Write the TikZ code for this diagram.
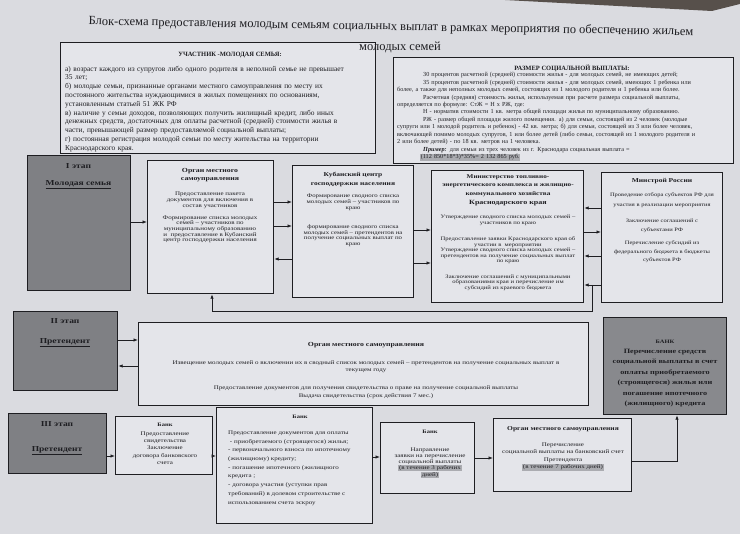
\documentclass[tikz,border=0pt]{standalone}
\usepackage{fontspec}
\setmainfont{Liberation Serif}
\usetikzlibrary{arrows.meta}
\definecolor{paper}{HTML}{DADBE0}
\definecolor{boxfill}{HTML}{E4E5EA}
\definecolor{stagefill}{HTML}{7F8084}
\definecolor{bankfill}{HTML}{88898D}
\definecolor{ink}{HTML}{1E1E22}
\definecolor{hl}{HTML}{ABACB1}
\definecolor{desk}{HTML}{57504B}
\newcommand\fsz[2]{\fontsize{#1}{#2}\selectfont}
\newcommand\jA[1]{\makebox[302pt][s]{#1}}
\newcommand\jB[1]{\makebox[326pt][s]{#1}}
\newcommand\jBi[1]{\hspace*{26pt}\makebox[300pt][s]{#1}}
\newcommand\hlt[1]{{\setlength{\fboxsep}{0.6pt}\colorbox{hl}{#1}}}
\newcommand\myrar[3]{\path (0,#3) coordinate (hy); \draw[conn] (hy -| #1.east) -- (hy -| #2.west);}
\newcommand\mylar[3]{\path (0,#3) coordinate (hy); \draw[conn] (hy -| #1.west) -- (hy -| #2.east);}
\tikzset{
  box/.style={draw=ink, line width=1.2pt, fill=boxfill, anchor=north west, inner sep=0pt},
  stagebox/.style={box, fill=stagefill},
  bankbox/.style={box, fill=bankfill},
  conn/.style={draw=ink, line width=0.8pt, -{Latex[length=4.5pt,width=3.5pt]}},
  ft/.style={text=ink, align=center, inner sep=0pt, anchor=north, yscale=0.8, transform shape},
  pt/.style={text=ink, inner sep=0pt},
}
\begin{document}
\begin{tikzpicture}[x=1pt,y=-1pt]
\useasboundingbox (0,0) rectangle (740,534);
\fill[paper] (0,0) rectangle (740,534);
\fill[desk] (505,0) -- (740,0) -- (740,4) -- (712,11) -- cycle;

% boxes
\node[box, minimum width=315pt, minimum height=111pt] (part) at (60,42) {};
\node[box, minimum width=340pt, minimum height=106pt] (size) at (393,57) {};
\node[stagebox, minimum width=103pt, minimum height=135pt] (st1) at (27,155) {};
\node[box, minimum width=126pt, minimum height=133pt] (org1) at (147,160) {};
\node[box, minimum width=121pt, minimum height=132pt] (kub) at (292,165) {};
\node[box, minimum width=152pt, minimum height=132pt] (minis) at (431,170) {};
\node[box, minimum width=121pt, minimum height=130pt] (mstr) at (601,172) {};
\node[stagebox, minimum width=104pt, minimum height=79pt] (st2) at (13,311) {};
\node[box, minimum width=450pt, minimum height=83pt] (org2) at (138,322) {};
\node[bankbox, minimum width=123pt, minimum height=97pt] (bank) at (603,317) {};
\node[stagebox, minimum width=98pt, minimum height=60pt] (st3) at (8,413) {};
\node[box, minimum width=97pt, minimum height=58pt] (bank1) at (115,416) {};
\node[box, minimum width=156pt, minimum height=116pt] (bank2) at (216,407) {};
\node[box, minimum width=94pt, minimum height=71pt] (bank3) at (380,422) {};
\node[box, minimum width=138pt, minimum height=73pt] (org3) at (493,418) {};

% title
\node[pt, font=\fsz{12.5}{14}, rotate=-1] (title1) at (391,27) {Блок-схема предоставления молодым семьям социальных выплат в рамках мероприятия по обеспечению жильем};
\node[pt, font=\fsz{12.5}{14}] (title2) at (400,47) {молодых семей};

% participant box
\node[pt, font=\bfseries\fsz{6.5}{8}] (partA) at (230,55) {УЧАСТНИК -МОЛОДАЯ СЕМЬЯ:};
\node[pt, anchor=north west, text width=302pt, align=left, font=\fsz{7.4}{8.8}] (partB) at (65,65.7) {%
\jA{а) возраст каждого из супругов либо одного родителя в неполной семье не превышает}\\
35 лет;\\
\jA{б) молодые семьи, признанные органами местного самоуправления по месту их}\\
\jA{постоянного жительства нуждающимися в жилых помещениях по основаниям,}\\
установленным статьей 51 ЖК РФ\\
\jA{в) наличие у семьи доходов, позволяющих получить жилищный кредит, либо иных}\\
\jA{денежных средств, достаточных для оплаты расчетной (средней) стоимости жилья в}\\
части, превышающей размер предоставляемой социальной выплаты;\\
\jA{г) постоянная регистрация молодой семьи по месту жительства на территории}\\
Краснодарского края.};

% size box
\node[pt, font=\bfseries\fsz{6.5}{8}] (sizeA) at (572,68) {РАЗМЕР СОЦИАЛЬНОЙ ВЫПЛАТЫ:};
\node[pt, anchor=north west, text width=326pt, align=left, font=\fsz{6.2}{7.45}] (sizeB) at (397,72.2) {%
\hspace*{26pt}30 процентов расчетной (средней) стоимости жилья - для молодых семей, не имеющих детей;\\
\jBi{35 процентов расчетной (средней) стоимости жилья - для молодых семей, имеющих 1 ребенка или}\\
более, а также для неполных молодых семей, состоящих из 1 молодого родителя и 1 ребенка или более.\\
\jBi{Расчетная (средняя) стоимость жилья, используемая при расчете размера социальной выплаты,}\\
определяется по формуле: СтЖ = Н х РЖ, где:\\
\hspace*{26pt}Н - норматив стоимости 1 кв. метра общей площади жилья по муниципальному образованию.\\
\jBi{РЖ - размер общей площади жилого помещения. а) для семьи, состоящей из 2 человек (молодые}\\
\jB{супруги или 1 молодой родитель и ребенок) - 42 кв. метра; б) для семьи, состоящей из 3 или более человек,}\\
\jB{включающей помимо молодых супругов, 1 или более детей (либо семьи, состоящей из 1 молодого родителя и}\\
2 или более детей) - по 18 кв. метров на 1 человека.\\
\hspace*{26pt}\textbf{\textit{Пример:}} для семьи из трех человек из г. Краснодара социальная выплата =\\
\hspace*{23pt}\hlt{(112 850*18*3)*35\%= 2 132 865 руб.}};

% stage texts
\node[ft, font=\bfseries\fsz{9.5}{21.25}] (st1t) at (78.5,163.6) {I этап\\\underline{Молодая семья}};
\node[ft, font=\bfseries\fsz{9.5}{25}] (st2t) at (65,318.6) {II этап\\\underline{Претендент}};
\node[ft, font=\bfseries\fsz{9.5}{31}] (st3t) at (57,421.6) {III этап\\\underline{Претендент}};

% organ 1
\node[ft, font=\bfseries\fsz{7.8}{10}] (org1a) at (210,168.2) {Орган местного\\самоуправления};
\node[ft, font=\fsz{7}{7.5}] (org1b) at (210,191.5) {Предоставление пакета\\документов для включения в\\состав участников};
\node[ft, font=\fsz{7}{7}] (org1c) at (210,215.5) {Формирование списка молодых\\семей – участников по\\муниципальному образованию\\и\ \ предоставление в Кубанский\\центр господдержки населения};

% kuban
\node[ft, font=\bfseries\fsz{7.5}{11.25}] (kuba) at (353,172.3) {Кубанский центр\\господдержки населения};
\node[ft, font=\fsz{6.8}{7.5}] (kubb) at (353,193.5) {Формирование сводного списка\\молодых семей – участников по\\краю};
\node[ft, font=\fsz{6.8}{7.1}] (kubc) at (353,224.5) {формирование сводного списка\\молодых семей – претендентов на\\получение социальных выплат по\\краю};

% ministry
\node[ft, font=\bfseries\fsz{7.2}{10.6}] (mina) at (508,174.4) {Министерство топливно-\\энергетического комплекса и жилищно-\\коммунального хозяйства};
\node[ft, font=\bfseries\fsz{8}{10}] (minb) at (508,200) {Краснодарского края};
\node[ft, font=\fsz{6.6}{7.5}] (minc) at (508,214.6) {Утверждение сводного списка молодых семей –\\участников по краю};
\node[ft, font=\fsz{6.6}{6.9}] (mind) at (508,236.6) {Предоставление заявки Краснодарского края об\\участии в\ \ мероприятии\\Утверждение сводного списка молодых семей –\\претендентов на получение социальных выплат\\по краю};
\node[ft, font=\fsz{6.6}{6.9}] (mine) at (508,274.6) {Заключение соглашений с муниципальными\\образованиями края и перечисление им\\субсидий из краевого бюджета};

% minstroy
\node[ft, font=\bfseries\fsz{7.5}{9}] (msa) at (662,178.3) {Минстрой России};
\node[ft, font=\fsz{6.5}{12.5}] (msb) at (662,192.7) {Проведение отбора субъектов РФ для\\участия в реализации мероприятия};
\node[ft, font=\fsz{6.5}{10.9}] (msc) at (662,218.7) {Заключение соглашений с\\субъектами РФ};
\node[ft, font=\fsz{6.5}{10.6}] (msd) at (662,240.7) {Перечисление субсидий из\\федерального бюджета в бюджеты\\субъектов РФ};

% organ 2
\node[ft, font=\bfseries\fsz{7.8}{10}] (org2a) at (366,342.2) {Орган местного самоуправления};
\node[ft, font=\fsz{7}{9.1}] (org2b) at (366,360.5) {Извещение молодых семей о включении их в сводный список молодых семей – претендентов на получение социальных выплат в\\текущем году};
\node[ft, font=\fsz{7}{10}] (org2c) at (366,385.5) {Предоставление документов для получения свидетельства о праве на получение социальной выплаты\\Выдача свидетельства (срок действия 7 мес.)};

% bank (dark)
\node[ft, font=\bfseries\fsz{6.5}{8}] (banka) at (665,339.7) {БАНК};
\node[ft, font=\bfseries\fsz{8.2}{13}] (bankb) at (665,349) {Перечисление средств\\социальной выплаты в счет\\оплаты приобретаемого\\(строящегося) жилья или\\погашение ипотечного\\(жилищного) кредита};

% bank 1
\node[ft, font=\bfseries\fsz{6.5}{8}] (b1a) at (165,422.7) {Банк};
\node[ft, font=\fsz{7}{9.1}] (b1b) at (165,431.5) {Предоставление\\свидетельства\\Заключение\\договора банковского\\счета};

% bank 2
\node[ft, font=\bfseries\fsz{6.5}{8}] (b2a) at (300,414.7) {Банк};
\node[ft, anchor=north west, align=left, font=\fsz{7}{10.9}] (b2b) at (228,430.5) {Предоставление документов для оплаты\\\ - приобретаемого (строящегося) жилья;\\- первоначального взноса по ипотечному\\(жилищному) кредиту;\\- погашение ипотечного (жилищного\\кредита ;\\- договора участия (уступки прав\\требований) в долевом строительстве с\\использованием счета эскроу};

% bank 3
\node[ft, font=\bfseries\fsz{6.5}{8}] (b3a) at (430,429.7) {Банк};
\node[ft, font=\fsz{7}{7.5}] (b3b) at (430,447.5) {Направление\\заявки на перечисление\\социальной выплаты\\\hlt{(в течение 3 рабочих}\\\hlt{дней)}};

% organ 3
\node[ft, font=\bfseries\fsz{7.5}{9}] (o3a) at (563,426.3) {Орган местного самоуправления};
\node[ft, font=\fsz{7}{9.4}] (o3b) at (563,442.5) {Перечисление\\социальной выплаты на банковский счет\\Претендента\\\hlt{(в течение 7 рабочих дней)}};

% connectors
\myrar{st1}{org1}{222}
\myrar{org1}{kub}{202}
\myrar{org1}{kub}{226}
\mylar{kub}{org1}{259}
\myrar{kub}{minis}{230}
\myrar{kub}{minis}{263}
\mylar{mstr}{minis}{208}
\myrar{minis}{mstr}{232}
\mylar{mstr}{minis}{256}
\mylar{mstr}{minis}{285}
\myrar{st2}{org2}{340}
\mylar{org2}{st2}{366}
\myrar{st3}{bank1}{456}
\myrar{bank1}{bank2}{456}
\myrar{bank2}{bank3}{457}
\myrar{bank3}{org3}{458}
\coordinate (mA) at (592,285);
\coordinate (mB) at (592,311);
\coordinate (mC) at (212,311);
\draw[conn] (mA) -- (mB) -- (mC) -- (mC |- org1.south);
\coordinate (bA) at (677,461);
\draw[conn] (bA -| org3.east) -- (bA) -- (bA |- bank.south);
\end{tikzpicture}
\end{document}
